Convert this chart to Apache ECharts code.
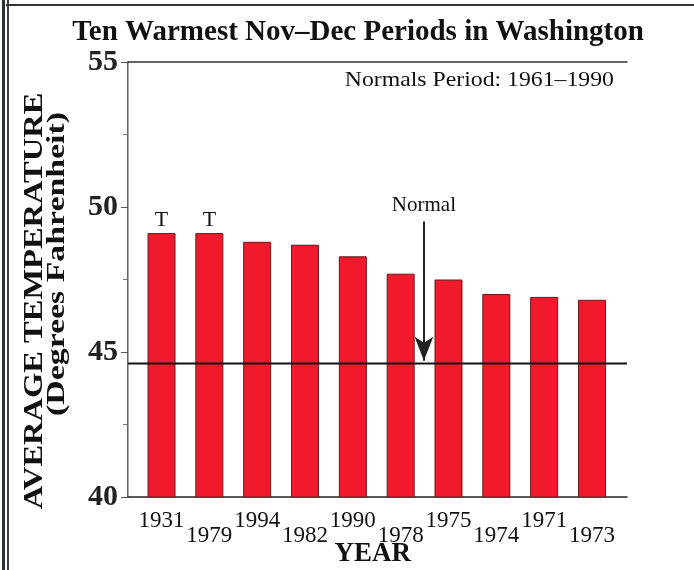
<!DOCTYPE html>
<html>
<head>
<meta charset="utf-8">
<script src="https://cdn.jsdelivr.net/npm/echarts@6/dist/echarts.min.js"></script>
<style>html,body{margin:0;padding:0;background:#fff}#c{width:694px;height:570px}</style>
</head>
<body>
<div id="c"></div>
<script>
var years = ['1931','1979','1994','1982','1990','1978','1975','1974','1971','1973'];
var temps = [49.1, 49.1, 48.8, 48.7, 48.3, 47.7, 47.5, 47.0, 46.9, 46.8];
var tieMarks = ['T','T','','','','','','','',''];
var normalTemp = 44.6;
var yTicks = [40, 45, 50, 55];
var arrowTop = 49.5, arrowTip = 44.7, arrowX = 0.593;

var SERIF = 'Liberation Serif, Times New Roman, serif';
var chart = echarts.init(document.getElementById('c'), null, {renderer:'canvas'});
var option = {
  backgroundColor:'#fff',
  animation:false,
  grid:[
    {left:128, right:67, top:62, bottom:73, outerBoundsMode:'none', containLabel:false},
    {left:137.6, right:78.1, top:62, bottom:73, outerBoundsMode:'none', containLabel:false}
  ],
  xAxis:[
    {gridIndex:0, type:'value', min:0, max:1, axisLine:{show:true,lineStyle:{color:'#222',width:1.5}}, axisTick:{show:false}, axisLabel:{show:false}, splitLine:{show:false}},
    {gridIndex:0, type:'value', position:'top', min:0, max:1, axisLine:{show:true,lineStyle:{color:'#333',width:1.5}}, axisTick:{show:false}, axisLabel:{show:false}, splitLine:{show:false}},
    {gridIndex:1, type:'category', data:years, axisLine:{show:false}, axisTick:{show:false},
     axisLabel:{interval:0, margin:12, color:'#111', fontFamily:SERIF, fontSize:23,
       formatter:function(v,i){return i%2 ? '{lo|'+v+'}' : '{hi|'+v+'}';},
       rich:{hi:{fontFamily:SERIF,fontSize:23,color:'#111'}, lo:{fontFamily:SERIF,fontSize:23,color:'#111',padding:[15,0,0,0]}}},
     name:'YEAR', nameLocation:'middle', nameGap:44, nameMoveOverlap:false,
     nameTextStyle:{fontFamily:SERIF, fontSize:27, fontWeight:'bold', color:'#111', padding:[0,8,0,0]}}
  ],
  yAxis:[
    {gridIndex:0, type:'value', min:yTicks[0], max:yTicks[yTicks.length-1], interval:5,
     axisLine:{show:true,lineStyle:{color:'#333',width:1.5}},
     axisTick:{show:true,length:7,lineStyle:{color:'#555'}},
     minorTick:{show:true,splitNumber:2,length:5,lineStyle:{color:'#777'}},
     axisLabel:{margin:10, fontFamily:SERIF, fontSize:30, fontWeight:'bold', color:'#222'},
     splitLine:{show:false}},
    {gridIndex:0, type:'value', position:'right', min:40, max:55, axisLine:{show:true,lineStyle:{color:'#aaa',width:1}}, axisTick:{show:false}, axisLabel:{show:false}, splitLine:{show:false}},
    {gridIndex:1, type:'value', min:40, max:55, show:false}
  ],
  series:[
    {type:'bar', xAxisIndex:2, yAxisIndex:2, data:temps, barWidth:28,
     itemStyle:{color:'#f01a2c', borderColor:'#6a1a1a', borderWidth:1},
     label:{show:true, position:'top', distance:2, fontFamily:SERIF, fontSize:22, color:'#111',
       formatter:function(p){return tieMarks[p.dataIndex];}}},
    {type:'line', xAxisIndex:0, yAxisIndex:0, data:[[0,normalTemp],[1,normalTemp]], symbol:'none',
     lineStyle:{color:'#111', width:2}, z:5,
     markLine:{silent:true, symbol:['none','arrow'], symbolSize:[14,24],
       lineStyle:{color:'#222', width:2, type:'solid'},
       label:{show:true, position:'start', distance:6, formatter:'Normal', fontFamily:SERIF, fontSize:21, color:'#111'},
       data:[[{coord:[arrowX, arrowTop]},{coord:[arrowX, arrowTip]}]]}}
  ],
  graphic:[
    {type:'text', x:358, y:33, scaleX:1.0, style:{text:'Ten Warmest Nov\u2013Dec Periods in Washington', font:'bold 29px '+SERIF, fill:'#111', align:'center', verticalAlign:'middle'}},
    {type:'text', x:614, y:80, scaleX:1.08, style:{text:'Normals Period: 1961\u20131990', font:'22px '+SERIF, fill:'#111', align:'right', verticalAlign:'middle'}},
    {type:'text', x:35, y:301, rotation:Math.PI/2, scaleX:1.16, style:{text:'AVERAGE TEMPERATURE', font:'bold 28px '+SERIF, fill:'#111', align:'center', verticalAlign:'middle'}},
    {type:'text', x:57, y:264, rotation:Math.PI/2, scaleX:1.3, style:{text:'(Degrees Fahrenheit)', font:'bold 26px '+SERIF, fill:'#111', align:'center', verticalAlign:'middle'}},
    {type:'line', shape:{x1:3.5,y1:0,x2:3.5,y2:570}, style:{stroke:'#2a3236', lineWidth:3}},
    {type:'line', shape:{x1:8,y1:0,x2:8,y2:570}, style:{stroke:'#3a4448', lineWidth:2}},
    {type:'line', shape:{x1:6,y1:5,x2:694,y2:5}, style:{stroke:'#333', lineWidth:2}}
  ]
};
chart.setOption(option);
</script>
</body>
</html>
